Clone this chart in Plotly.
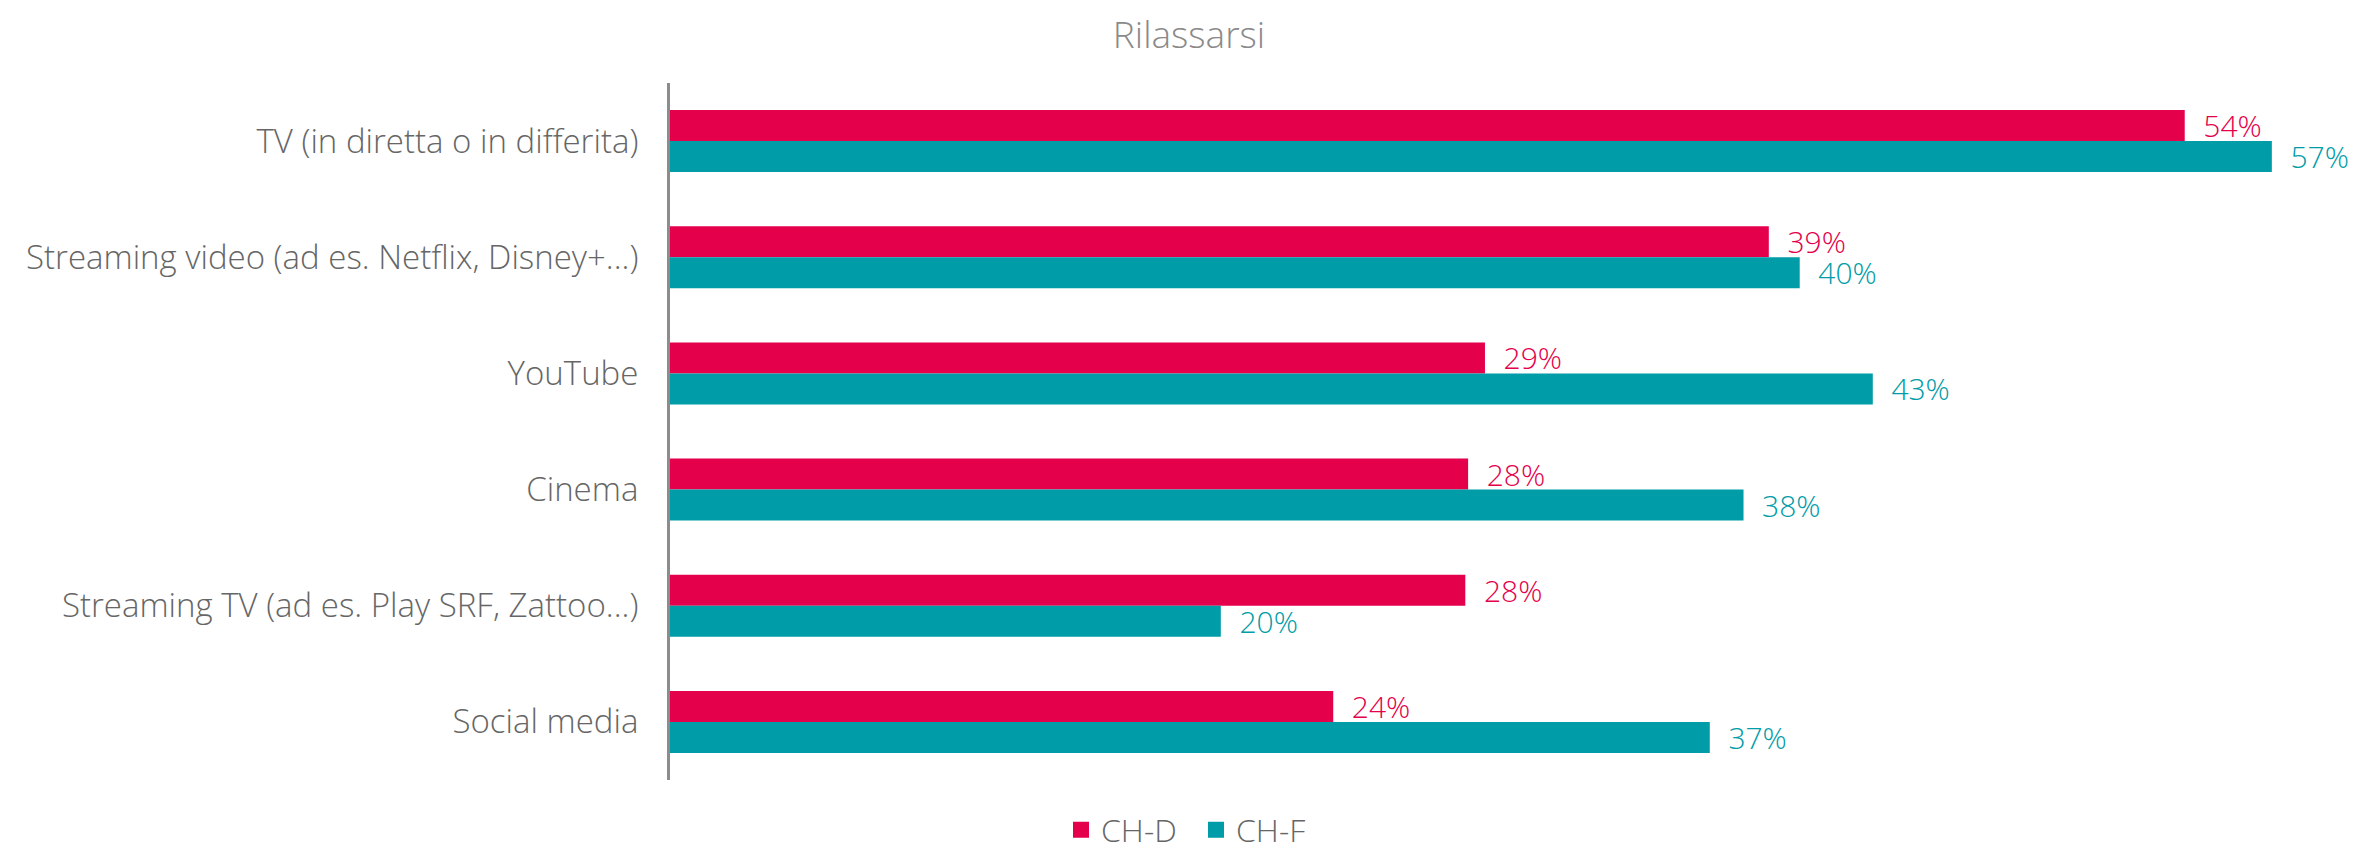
import plotly.graph_objects as go

# ── Data ──────────────────────────────────────────────────────────────────────

categories = [
    "TV (in diretta o in differita)",
    "Streaming video (ad es. Netflix, Disney+...)",
    "YouTube",
    "Cinema",
    "Streaming TV (ad es. Play SRF, Zattoo...)",
    "Social media",
]
ch_d = [53.9, 39.1, 29.0, 28.4, 28.3, 23.6]
ch_f = [57.0, 40.2, 42.8, 38.2, 19.6, 37.0]
series_names = ["CH-D", "CH-F"]
title_text = "Rilassarsi"

RED = "#E4004B"
TEAL = "#009CA8"
FONT = "Open Sans"

# the page body has an 8px margin, so the figure is sized to the visible area
W, H = 2348, 841

fig = go.Figure()
for name, vals, col in [(series_names[0], ch_d, RED), (series_names[1], ch_f, TEAL)]:
    fig.add_trace(go.Bar(
        name=name, y=categories, x=vals, orientation="h",
        marker=dict(color=col, line=dict(width=0)),
        texttemplate="\u00a0\u00a0%{x:.0f}%", textposition="outside",
        constraintext="none",
        textfont=dict(color=col, size=30, family=FONT, weight=300),
        cliponaxis=False, showlegend=False,
    ))
    # legend entry with a bigger square swatch
    fig.add_trace(go.Scatter(
        name=name, x=[None], y=[None], mode="markers",
        marker=dict(symbol="square", size=18, color=col),
    ))

fig.update_layout(
    width=W, height=H,
    barmode="group", bargap=0.466, bargroupgap=0,
    paper_bgcolor="white", plot_bgcolor="white",
    margin=dict(l=662, r=42, t=75, b=69, autoexpand=False),
    font=dict(family=FONT, weight=300),
    title=dict(text=title_text, x=1181 / W, xanchor="center", y=1 - 27 / H, yanchor="middle",
               font=dict(size=37, color="#8a8a8a", family=FONT, weight=300)),
    legend=dict(orientation="h", x=1188 / W, xanchor="center", xref="container",
                y=1 - 822 / H, yanchor="middle", yref="container",
                font=dict(size=32, color="#666666", family=FONT, weight=300),
                itemwidth=30, entrywidth=90),
    showlegend=True,
)
fig.update_xaxes(range=[0, 58.5], visible=False, showgrid=False, zeroline=False)
fig.update_yaxes(autorange="reversed", showgrid=False, zeroline=False, automargin=False,
                 showline=True, linecolor="#8c8c8c", linewidth=3,
                 ticks="", ticklabelstandoff=22,
                 tickfont=dict(size=33, color="#666666", family=FONT, weight=300))

fig.write_html("out.html")
